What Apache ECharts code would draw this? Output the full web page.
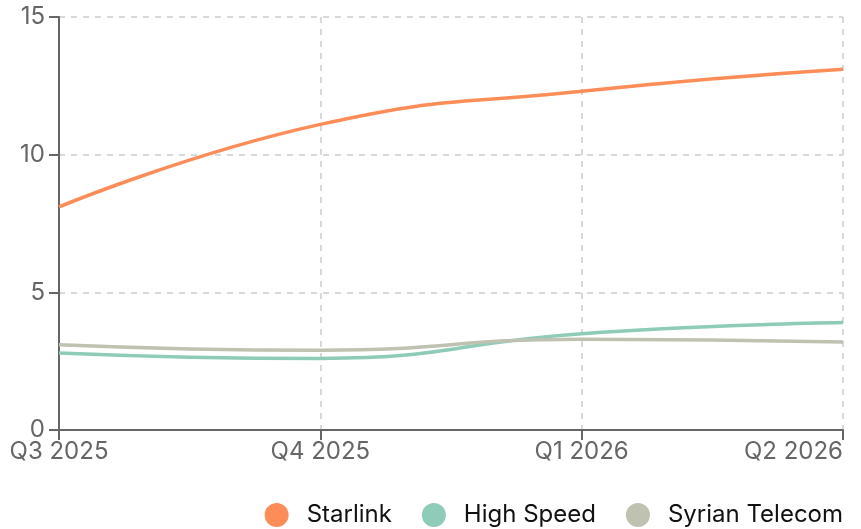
<!DOCTYPE html>
<html><head><meta charset="utf-8">
<script src="https://cdn.jsdelivr.net/npm/echarts@6/dist/echarts.min.js"></script>
<style>html,body{margin:0;padding:0;background:#fff}#c{width:861px;height:529px}</style>
</head><body><div id="c"></div>
<script>
const categories = ['Q3 2025', 'Q4 2025', 'Q1 2026', 'Q2 2026'];
const starlink = [8.1, 11.1, 12.3, 13.1];
const highSpeed = [2.8, 2.6, 3.5, 3.9];
const syrianTelecom = [3.1, 2.9, 3.3, 3.2];
const yTicks = [0, 5, 10, 15];

const chart = echarts.init(document.getElementById('c'));
const font = 'Inter, "Noto Sans", sans-serif';
function line(name, data, color) {
  return { name, type: 'line', data, smooth: true, symbol: 'none', color,
    lineStyle: { width: 3.5, color } };
}
chart.setOption({
  animation: false,
  grid: { left: 59, right: 18, top: 17, bottom: 99 },
  legend: {
    right: 13, bottom: -3, icon: 'circle', itemWidth: 24, itemHeight: 24, itemGap: 30,
    textStyle: { fontFamily: font, fontSize: 24, color: '#111', padding: [0, 0, 0, 13] },
    data: ['Starlink', 'High Speed', 'Syrian Telecom']
  },
  xAxis: {
    type: 'category', data: categories, boundaryGap: false,
    axisLine: { lineStyle: { color: '#666', width: 2 } },
    axisTick: { length: 10, lineStyle: { color: '#666', width: 2 } },
    axisLabel: { fontFamily: font, fontSize: 24, color: '#666', margin: 10, alignMaxLabel: 'right' },
    splitLine: { show: true, lineStyle: { type: [6, 6], color: '#ccc', width: 1.5 } }
  },
  yAxis: {
    type: 'value', min: yTicks[0], max: yTicks[yTicks.length - 1], interval: 5,
    axisLine: { show: true, lineStyle: { color: '#666', width: 2 } },
    axisTick: { show: true, length: 10, lineStyle: { color: '#666', width: 2 } },
    axisLabel: { fontFamily: font, fontSize: 24, color: '#666', margin: 14 },
    splitLine: { show: true, lineStyle: { type: [6, 6], color: '#ccc', width: 1.5 } }
  },
  series: [
    line('Starlink', starlink, '#fc8d59'),
    line('High Speed', highSpeed, '#8ecbb8'),
    line('Syrian Telecom', syrianTelecom, '#bfc2b0')
  ]
});
</script></body></html>
